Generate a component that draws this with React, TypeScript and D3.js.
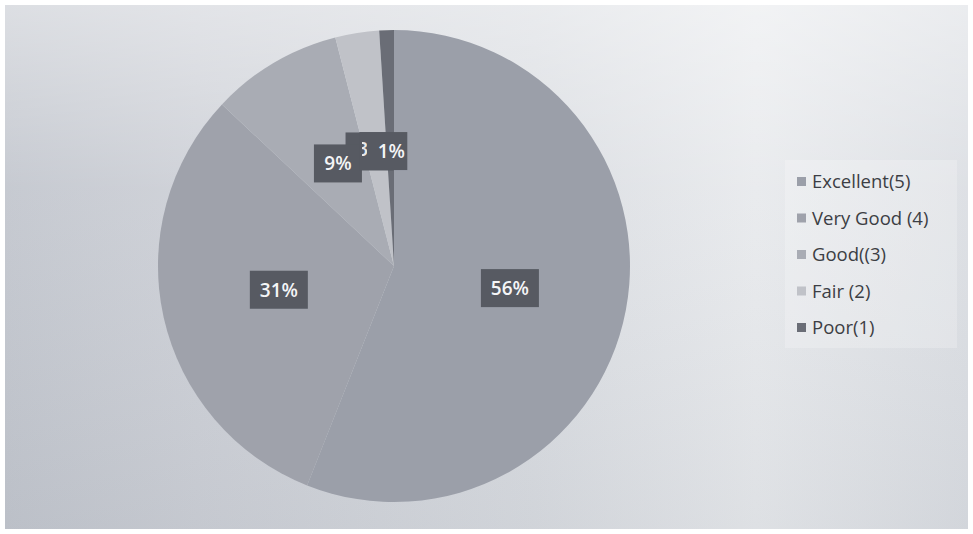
import React from "react";
import * as d3 from "d3";

const categories = ["Excellent(5)", "Very Good (4)", "Good((3)", "Fair (2)", "Poor(1)"];
const values = [56, 31, 9, 3, 1];
const sliceColors = ["#9b9fa9", "#9fa2ab", "#a9acb4", "#c0c2c8", "#6a6d76"];

const W = 973;
const H = 534;
const cx = 394;
const cy = 266;
const R = 236;

export default function App() {
  const pie = d3.pie<number>().sort(null).value((d) => d)(values);
  const arc = d3.arc<d3.PieArcDatum<number>>().innerRadius(0).outerRadius(R);
  const labelArc = d3.arc<d3.PieArcDatum<number>>().innerRadius(R).outerRadius(0);
  const fmt = (v: number) => `${v}%`;
  const labelOffsets: [number, number][] = [[0, 0], [0, -2], [4, -1], [-6, 2], [-7, 3]];
  const textShift = [0, 0, 0, 0, 8];
  const boxW = (s: string) => (s.length === 2 ? 48 : 58);
  const legendY = d3.scalePoint<string>().domain(categories).range([182, 328]);
  const pos = (i: number) => {
    const [lx, ly] = labelArc.centroid(pie[i]);
    return [cx + lx + labelOffsets[i][0], cy + ly + labelOffsets[i][1]];
  };

  return (
    <svg width={W} height={H} style={{ position: "fixed", left: 0, top: 0, background: "#fff" }}>
      <defs>
        <linearGradient id="bg" x1="0" y1="0" x2="1" y2="0">
          <stop offset="0%" stopColor="#c0c4cc" />
          <stop offset="20%" stopColor="#cbced5" />
          <stop offset="55%" stopColor="#d8dbe0" />
          <stop offset="78%" stopColor="#e7e9ec" />
          <stop offset="100%" stopColor="#dadde2" />
        </linearGradient>
        <linearGradient id="bgv" x1="0" y1="0" x2="0" y2="1">
          <stop offset="0%" stopColor="#ffffff" stopOpacity={0.45} />
          <stop offset="35%" stopColor="#ffffff" stopOpacity={0.1} />
          <stop offset="100%" stopColor="#9aa0a8" stopOpacity={0.12} />
        </linearGradient>
        <clipPath id="clip3">
          <rect x={362} y={125} width={5} height={50} />
        </clipPath>
      </defs>
      <rect x={5} y={5} width={W - 10} height={H - 10} fill="url(#bg)" />
      <rect x={5} y={5} width={W - 10} height={H - 10} fill="url(#bgv)" />
      <g transform={`translate(${cx},${cy})`}>
        {pie.map((p, i) => (
          <path key={i} d={arc(p) || ""} fill={sliceColors[i]} />
        ))}
      </g>
      {[3, 2, 4, 1, 0].map((i) => {
        const [x, y] = pos(i);
        const t = fmt(values[i]);
        const w = boxW(t);
        return (
          <g key={i}>
            <rect x={x - w / 2} y={y - 19} width={w} height={38} fill="#575a62" />
            {i !== 3 && (
              <text x={x + textShift[i]} y={y + 7} textAnchor="middle" fill="#f4f5f7" fontFamily="Open Sans" fontWeight={600} fontSize={19}>
                {t}
              </text>
            )}
          </g>
        );
      })}
      {(() => {
        const [, y] = pos(3);
        return (
          <text x={368} y={y + 5} clipPath="url(#clip3)" textAnchor="end" fill="#e8e9ec" fontFamily="Open Sans" fontWeight={600} fontSize={19}>
            {String(values[3])}
          </text>
        );
      })()}
      <rect x={785} y={160} width={172} height={188} fill="#ffffff" opacity={0.22} />
      {categories.map((c, i) => (
        <g key={c} transform={`translate(797,${legendY(c)})`}>
          <rect x={0} y={-5} width={9} height={9} fill={sliceColors[i]} />
          <text x={15} y={6} fill="#3c3e44" fontFamily="Open Sans" fontSize={18.5}>
            {c}
          </text>
        </g>
      ))}
    </svg>
  );
}
